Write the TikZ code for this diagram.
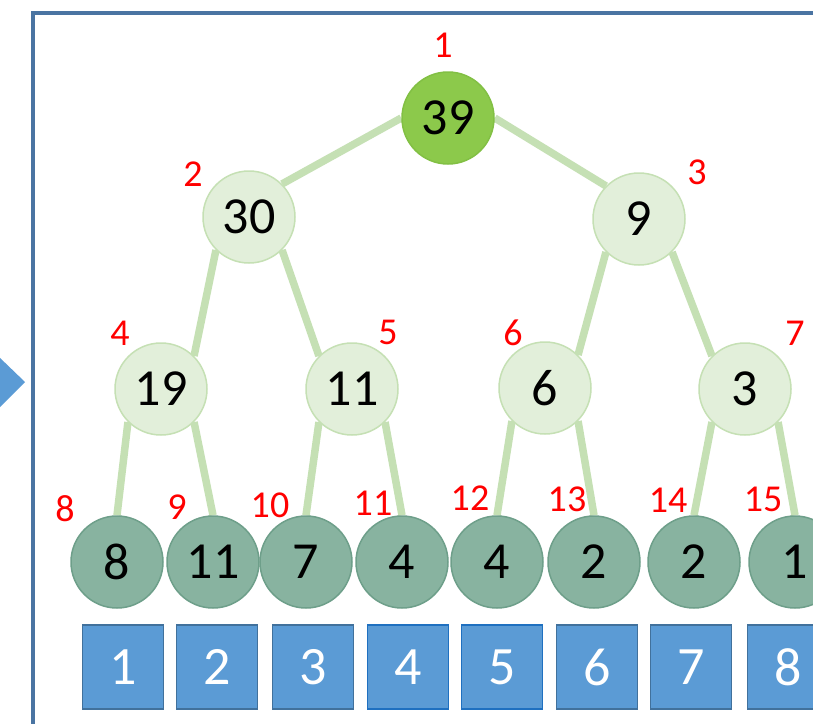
\documentclass[tikz,border=0pt]{standalone}
\usepackage{fontspec}
\setmainfont{Carlito}
\usetikzlibrary{backgrounds}
\pgfdeclarelayer{edgelayer}
\pgfsetlayers{background,edgelayer,main}
\definecolor{edgec}{HTML}{C5E0B4}
\definecolor{rootfill}{HTML}{8CC94B}
\definecolor{rootdraw}{HTML}{82C044}
\definecolor{midfill}{HTML}{E2EFDA}
\definecolor{middraw}{HTML}{C5E0B4}
\definecolor{leaffill}{HTML}{88B3A0}
\definecolor{leafdraw}{HTML}{6E9F8A}
\definecolor{sqfill}{HTML}{5B9BD5}
\definecolor{sqdraw}{HTML}{41719C}
\definecolor{sqdrawb}{HTML}{1F70C0}
\definecolor{framec}{HTML}{4A74A2}
\begin{document}
\begin{tikzpicture}[x=1pt,y=-1pt,
  nodebase/.style={circle,minimum size=92pt,inner sep=0pt,line width=1.5pt,
    font=\fontsize{52}{52}\selectfont,text=black},
  rootn/.style={nodebase,fill=rootfill,draw=rootdraw},
  midn/.style={nodebase,fill=midfill,draw=middraw},
  leafn/.style={nodebase,fill=leaffill,draw=leafdraw},
  sq/.style={rectangle,minimum width=81pt,minimum height=84pt,inner sep=0pt,
    fill=sqfill,draw=sqdraw,line width=1.5pt,text=white,
    font=\fontsize{54}{54}\selectfont},
  sqb/.style={sq,draw=sqdrawb},
  idx/.style={text=red,font=\fontsize{38}{38}\selectfont,inner sep=0pt},
  edge/.style={draw=edgec,line width=7.5pt},
  frame/.style={draw=framec,line width=3.5pt}]
\useasboundingbox (0,0) rectangle (813,723);
\begin{pgfonlayer}{background}
\fill[white] (0,0) rectangle (813,723);
\end{pgfonlayer}

% frame and incoming arrow
\draw[frame] (33,730) -- (33,13) -- (820,13);
\fill[sqfill] (-2,356) -- (25,382) -- (-2,409) -- cycle;

% tree nodes
\node[rootn] (n1) at (448,118) {39};
\node[midn] (n2) at (249,217) {30};
\node[midn] (n3) at (639,219) {9};
\node[midn] (n4) at (161,389) {19};
\node[midn] (n5) at (352,389) {11};
\node[midn] (n6) at (545,388) {6};
\node[midn] (n7) at (745,389) {3};
\node[leafn] (l8)  at (117,562) {8};
\node[leafn] (l9)  at (213,562) {11};
\node[leafn] (l10) at (306,562) {7};
\node[leafn] (l11) at (402,562) {4};
\node[leafn] (l12) at (497,562) {4};
\node[leafn] (l13) at (594,562) {2};
\node[leafn] (l14) at (694,562) {2};
\node[leafn] (l15) at (795,562) {1};

% index labels
\node[idx] (i1)  at (443,45) {1};
\node[idx] (i2)  at (193,174) {2};
\node[idx] (i3)  at (697,172) {3};
\node[idx] (i4)  at (120,333) {4};
\node[idx] (i5)  at (388,332) {5};
\node[idx] (i6)  at (513,333) {6};
\node[idx] (i7)  at (795,333) {7};
\node[idx] (i8)  at (65,509) {8};
\node[idx] (i9)  at (177,507) {9};
\node[idx] (i10) at (270,505) {10};
\node[idx] (i11) at (373,503) {11};
\node[idx] (i12) at (470,498) {12};
\node[idx] (i13) at (567,499) {13};
\node[idx] (i14) at (668,500) {14};
\node[idx] (i15) at (763,499) {15};

% array squares
\node[sq]  (s1) at (123,667) {1};
\node[sq]  (s2) at (217,667) {2};
\node[sq]  (s3) at (313,667) {3};
\node[sqb] (s4) at (408,667) {4};
\node[sqb] (s5) at (502,667) {5};
\node[sq]  (s6) at (597,667) {6};
\node[sq]  (s7) at (691,667) {7};
\node[sq]  (s8) at (788,667) {8};

% edges
\begin{pgfonlayer}{edgelayer}
\draw[edge] (n1.west) -- (n2.north east);
\draw[edge] (n1.east) -- (n3.north west);
\draw[edge] (n2.south west) -- (n4.north east);
\draw[edge] (n2.south east) -- (n5.north west);
\draw[edge] (n3.south west) -- (n6.north east);
\draw[edge] (n3.south east) -- (n7.north west);
\draw[edge] (n4.south west) -- (l8.north);
\draw[edge] (n4.south east) -- (l9.north);
\draw[edge] (n5.south west) -- (l10.north);
\draw[edge] (n5.south east) -- (l11.north);
\draw[edge] (n6.south west) -- (l12.north);
\draw[edge] (n6.south east) -- (l13.north);
\draw[edge] (n7.south west) -- (l14.north);
\draw[edge] (n7.south east) -- (l15.north);
\end{pgfonlayer}
\end{tikzpicture}
\end{document}
